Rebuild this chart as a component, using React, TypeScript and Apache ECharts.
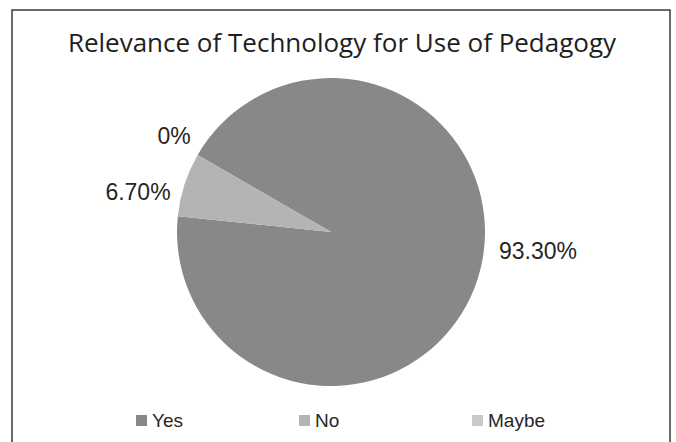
import React, { useEffect, useRef } from "react";
import * as echarts from "echarts";

const categories = ["Yes", "No", "Maybe"];
const values = [93.3, 6.7, 0];
const labelTexts = ["93.30%", "6.70%", "0%"];
const colors = ["#888888", "#b3b4b3", "#c8c9c8"];
const titleText = "Relevance of Technology for Use of Pedagogy";

// label anchor points (centre of each text)
const labelPos = [
  [538, 251],
  [138, 192],
  [174, 136],
];
const legendLefts = [136, 299, 472];

export default function App() {
  const ref = useRef<HTMLDivElement>(null);
  useEffect(() => {
    if (!ref.current) return;
    const chart = echarts.init(ref.current, undefined, { renderer: "svg" });
    chart.setOption({
      animation: false,
      backgroundColor: "#ffffff",
      title: {
        text: titleText,
        left: 337,
        textAlign: "center",
        top: 24,
        textStyle: {
          fontFamily: "'Open Sans', sans-serif",
          fontSize: 26,
          fontWeight: "normal",
          color: "#1e1e1e",
        },
      },
      graphic: [
        {
          type: "rect",
          shape: { x: 12, y: 10, width: 658, height: 500 },
          style: { fill: "none", stroke: "#3a3a3a", lineWidth: 1.5 },
          silent: true,
        },
      ],
      legend: categories.map((c, i) => ({
        data: [c],
        left: legendLefts[i],
        top: 411,
        itemWidth: 11,
        itemHeight: 11,
        itemGap: 5,
        icon: "rect",
        padding: 0,
        textStyle: {
          fontFamily: "'Liberation Sans', Arial, sans-serif",
          fontSize: 19,
          color: "#262626",
        },
      })),
      series: [
        {
          type: "pie",
          center: [331, 232],
          radius: 154,
          startAngle: 150,
          clockwise: true,
          stillShowZeroSum: true,
          avoidLabelOverlap: false,
          emphasis: { disabled: true },
          data: categories.map((c, i) => ({
            name: c,
            value: values[i],
            itemStyle: { color: colors[i] },
          })),
          label: {
            show: true,
            position: "outside",
            formatter: (p: any) => labelTexts[p.dataIndex],
            fontFamily: "'Liberation Sans', Arial, sans-serif",
            fontSize: 23,
            color: "#262626",
          },
          labelLine: { show: false },
          labelLayout: (p: any) => ({
            x: labelPos[p.dataIndex][0],
            y: labelPos[p.dataIndex][1],
            align: "center",
            verticalAlign: "middle",
          }),
        },
      ],
    });
    return () => chart.dispose();
  }, []);
  return (
    <div
      ref={ref}
      style={{ position: "fixed", left: 0, top: 0, width: 676, height: 442 }}
    />
  );
}
